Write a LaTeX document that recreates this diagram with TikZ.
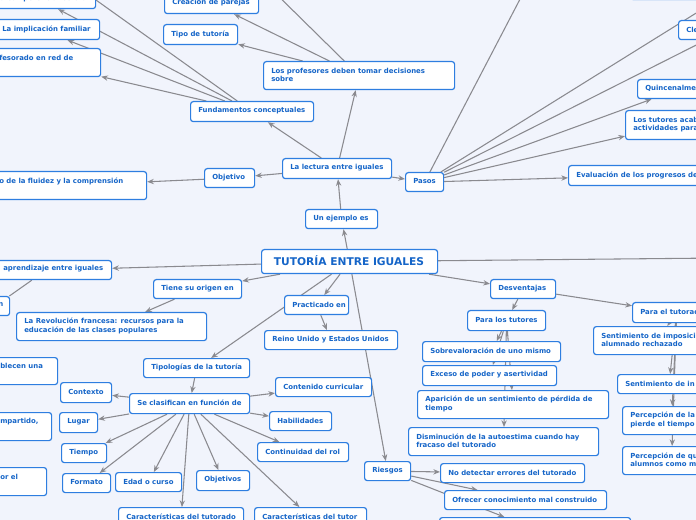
\documentclass[tikz,border=0pt]{standalone}
\usepackage{fontspec}
\setmainfont{DejaVu Sans}
\usetikzlibrary{arrows.meta}
\definecolor{bgc}{HTML}{F1F4FC}
\definecolor{bdc}{HTML}{2E7EE0}
\definecolor{txc}{HTML}{1565C8}
\definecolor{edc}{HTML}{8A8A8F}
\pgfdeclarelayer{bgfill}
\pgfdeclarelayer{bg}
\pgfsetlayers{bgfill,bg,main}
\tikzset{
 boxst/.style={draw=bdc,line width=0.9pt,fill=white,rounded corners=2pt,inner sep=0pt},
 txt/.style={text=txc,font=\bfseries\fontsize{5.2}{6.4}\selectfont,align=left,inner sep=0pt},
 ed/.style={draw=edc,line width=0.8pt,-{Stealth[length=5pt,width=4pt]}},
 pl/.style={draw=edc,line width=0.8pt}
}
\newcommand\bx[6]{\node[boxst,minimum width={(#4-#2)*0.75pt},minimum height={(#5-#3)*0.75pt},anchor=north west] (#1) at (#2,#3) {};
 \node[txt,anchor=west] at (#2+8,{(#3+#5)/2}) {#6};}
\begin{document}
\begin{tikzpicture}[x=0.75pt,y=-0.75pt]
\useasboundingbox (0,0) rectangle (696,520);
\clip (0,0) rectangle (696,520);
\begin{pgfonlayer}{bgfill}
\fill[bgc] (0,0) rectangle (696,520);
\end{pgfonlayer}
% top-left
\bx{comp}{-20}{-12}{95}{8}{}
\node[txt,anchor=west] at (0,-1) {a competencia lectora};
\bx{impl}{-20}{19}{99}{39}{}
\node[txt,anchor=west] at (2,29) {La implicación familiar};
\bx{fes}{-20}{48}{100}{76}{}
\node[txt,anchor=west] at (-1,58) {fesorado en red de};
\bx{crea}{164}{-8}{258}{13}{Creación de parejas}
\bx{tipo}{163}{24}{237}{44}{Tipo de tutoría}
\bx{prof}{263}{61}{454}{89}{Los profesores deben tomar decisiones\\sobre}
\bx{fund}{190}{101}{313}{121}{Fundamentos conceptuales}
\bx{lect}{282}{158}{391}{178}{La lectura entre iguales}
\bx{obj}{204}{168}{254}{187}{Objetivo}
\bx{flu}{-20}{171}{146}{199}{}
\node[txt,anchor=west] at (-1,181) {o de la fluidez y la comprensión};
\bx{ejem}{305}{209}{377}{228}{Un ejemplo es}
\node[boxst,minimum width={176*0.75pt},minimum height={24*0.75pt},anchor=north west] (tut) at (261,249) {};
\node[txt,font=\bfseries\fontsize{8}{9}\selectfont] at (349,261) {TUTORÍA ENTRE IGUALES};
% right top
\bx{pasos}{405}{172}{443}{191}{Pasos}
\bx{eval}{568}{165}{720}{185}{Evaluación de los progresos de}
\bx{tuto}{625}{110}{720}{139}{Los tutores acab\\actividades para}
\bx{quin}{637}{79}{720}{98}{Quincenalme}
\bx{cle}{678}{20}{720}{39}{Cle}
\bx{tr}{630}{-20}{720}{-1}{}
\coordinate (o1) at (530,-20);
\coordinate (o2) at (730,-8);
\coordinate (o3) at (730,28);
\coordinate (o4) at (40,-40);
\coordinate (o5) at (262,-20);
\coordinate (o6) at (720,258);
% left middle
\bx{apr}{-20}{260}{111}{279}{}
\node[txt,anchor=west] at (3,269) {aprendizaje entre iguales};
\bx{nn}{-20}{296}{9}{315}{}
\node[txt,anchor=west] at (-2,305) {n};
\bx{tie}{153}{279}{241}{298}{Tiene su origen en}
\bx{rev}{16}{312}{206}{340}{La Revolución francesa: recursos para la\\educación de las clases populares}
\bx{ble}{-20}{357}{57}{384}{}
\node[txt,anchor=west] at (0,366) {blecen una};
\bx{mpa}{-20}{412}{51}{440}{}
\node[txt,anchor=west] at (0,422) {mpartido,};
\bx{orel}{-20}{467}{46}{495}{}
\node[txt,anchor=west] at (0,477) {or el};
\bx{prac}{284}{295}{348}{314}{Practicado en}
\bx{rein}{264}{330}{397}{349}{Reino Unido y Estados Unidos}
\bx{tipl}{143}{358}{249}{377}{Tipologías de la tutoría}
\bx{secl}{129}{393}{249}{413}{Se clasifican en función de}
\bx{ctx}{60}{382}{111}{402}{Contexto}
\bx{lug}{59}{412}{97}{432}{Lugar}
\bx{tiem}{61}{443}{106}{462}{Tiempo}
\bx{form}{62}{473}{110}{492}{Formato}
\bx{edad}{115}{472}{181}{491}{Edad o curso}
\bx{objs}{196}{470}{249}{490}{Objetivos}
\bx{ctdo}{118}{507}{243}{527}{Características del tutorado}
\bx{ctor}{254}{507}{366}{527}{Características del tutor}
\bx{cont}{275}{377}{371}{396}{Contenido curricular}
\bx{hab}{269}{411}{331}{430}{Habilidades}
\bx{crol}{257}{442}{348}{461}{Continuidad del rol}
% right bottom
\bx{desv}{490}{279}{555}{298}{Desventajas}
\bx{plt}{467}{310}{545}{330}{Para los tutores}
\bx{pet}{632}{302}{720}{322}{Para el tutorado}
\bx{sob}{422}{341}{560}{361}{Sobrevaloración de uno mismo}
\bx{exc}{422}{365}{556}{385}{Exceso de poder y asertividad}
\bx{apa}{417}{390}{608}{418}{Aparición de un sentimiento de pérdida de\\tiempo}
\bx{dis}{408}{427}{598}{455}{Disminución de la autoestima cuando hay\\fracaso del tutorado}
\bx{ries}{364}{461}{410}{480}{Riesgos}
\bx{nod}{440}{463}{584}{482}{No detectar errores del tutorado}
\bx{ofr}{444}{490}{606}{509}{Ofrecer conocimiento mal construido}
\bx{bot}{439}{517}{630}{540}{}
\bx{simp}{593}{326}{720}{354}{Sentimiento de imposici\\alumnado rechazado}
\bx{sin}{617}{374}{720}{393}{Sentimiento de in}
\bx{per1}{622}{406}{720}{434}{Percepción de la\\pierde el tiempo}
\bx{per2}{622}{446}{720}{474}{Percepción de qu\\alumnos como m}
\begin{pgfonlayer}{bg}
\draw[ed] (fund) -- (comp);
\draw[ed] (fund) -- (impl);
\draw[ed] (fund) -- (fes);
\draw[pl] (fund) -- (o4);
\draw[ed] (prof) -- (crea);
\draw[ed] (prof) -- (tipo);
\draw[pl] (prof) -- (o5);
\draw[ed] (lect) -- (fund);
\draw[ed] (lect) -- (prof);
\draw[ed] (lect) -- (obj);
\draw[ed] (obj) -- (flu);
\draw[ed] (ejem) -- (lect);
\draw[ed] (tut) -- (ejem);
\draw[ed] (lect) -- (pasos);
\draw[pl] (pasos) -- (o1);
\draw[pl] (pasos) -- (o2);
\draw[pl] (pasos) -- (o3);
\draw[ed] (pasos) -- (quin);
\draw[ed] (pasos) -- (tuto);
\draw[ed] (pasos) -- (eval);
\draw[pl] (tut) -- (o6);
\draw[ed] (tut) -- (apr);
\draw[pl] (apr) -- (nn);
\draw[ed] (tut) -- (tie);
\draw[ed] (tie) -- (rev);
\draw[ed] (tut) -- (prac);
\draw[ed] (prac) -- (rein);
\draw[ed] (tut) -- (tipl);
\draw[ed] (tipl) -- (secl);
\foreach \t in {ctx,lug,tiem,form,edad,objs,ctdo,ctor,cont,hab,crol} \draw[ed] (secl) -- (\t);
\draw[ed] (tut) -- (desv);
\draw[ed] (desv) -- (plt);
\draw[ed] (desv) -- (pet);
\foreach \t in {sob,exc,apa,dis} \draw[ed] (plt) -- (\t);
\foreach \t in {simp,sin,per1,per2} \draw[ed] (pet) -- (\t);
\draw[ed] (tut) -- (ries);
\draw[ed] (ries) -- (nod);
\draw[ed] (ries) -- (ofr);
\draw[ed] (ries) -- (bot);
\end{pgfonlayer}
\end{tikzpicture}
\end{document}
